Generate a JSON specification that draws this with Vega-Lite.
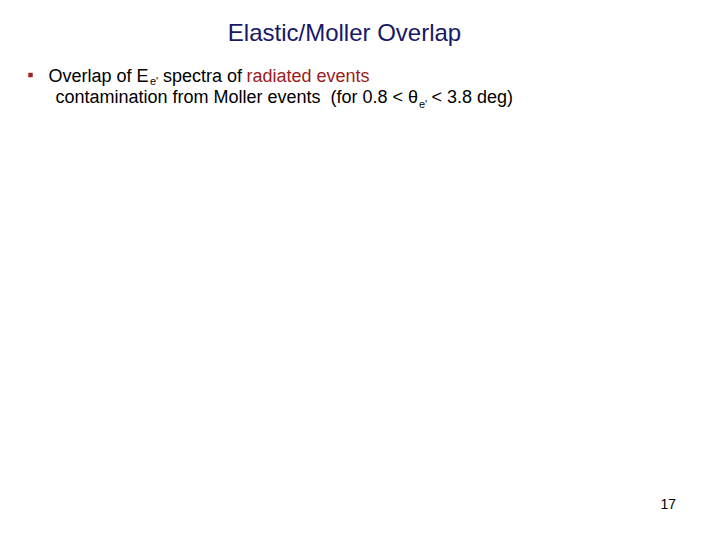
{
  "$schema": "https://vega.github.io/schema/vega-lite/v6.json",
  "width": 720,
  "height": 540,
  "autosize": {"type": "fit", "contains": "padding"},
  "padding": 0,
  "background": "white",
  "config": {"view": {"stroke": null}},
  "data": {
    "values": [
      {"role": "title", "x": 344.5, "y": 41, "text": "Elastic/Moller Overlap"},
      {"role": "bullet", "x": 30.5, "y": 75, "text": ""},
      {"role": "body", "x": 48.5, "y": 81.5, "text": "Overlap of E"},
      {"role": "sub", "x": 150, "y": 84.5, "text": "e'"},
      {"role": "body", "x": 163, "y": 81.5, "text": "spectra of"},
      {"role": "red", "x": 246.5, "y": 81.5, "text": "radiated events"},
      {"role": "body", "x": 55.5, "y": 103, "text": "contamination from Moller events"},
      {"role": "body", "x": 330.5, "y": 103, "text": "(for 0.8 < θ"},
      {"role": "sub", "x": 419, "y": 107.5, "text": "e'"},
      {"role": "body", "x": 431.5, "y": 103, "text": "< 3.8 deg)"},
      {"role": "page", "x": 676, "y": 509, "text": "17"}
    ]
  },
  "encoding": {
    "x": {"field": "x", "type": "quantitative", "scale": {"domain": [0, 720], "nice": false, "zero": false}, "axis": null},
    "y": {"field": "y", "type": "quantitative", "scale": {"domain": [0, 540], "nice": false, "zero": false, "reverse": true}, "axis": null},
    "text": {"field": "text", "type": "nominal"}
  },
  "layer": [
    {
      "transform": [{"filter": "datum.role === 'title'"}],
      "mark": {"type": "text", "font": "Liberation Sans", "fontSize": 24, "align": "center", "baseline": "alphabetic", "color": "#18186a"}
    },
    {
      "transform": [{"filter": "datum.role === 'bullet'"}],
      "mark": {"type": "square", "size": 20, "filled": true, "color": "#a52222", "opacity": 1}
    },
    {
      "transform": [{"filter": "datum.role === 'body'"}],
      "mark": {"type": "text", "font": "Liberation Sans", "fontSize": 18, "align": "left", "baseline": "alphabetic", "color": "#000000"}
    },
    {
      "transform": [{"filter": "datum.role === 'sub'"}],
      "mark": {"type": "text", "font": "Liberation Sans", "fontSize": 11, "align": "left", "baseline": "alphabetic", "color": "#000000"}
    },
    {
      "transform": [{"filter": "datum.role === 'red'"}],
      "mark": {"type": "text", "font": "Liberation Sans", "fontSize": 18, "align": "left", "baseline": "alphabetic", "color": "#9c1c1c"}
    },
    {
      "transform": [{"filter": "datum.role === 'page'"}],
      "mark": {"type": "text", "font": "Liberation Sans", "fontSize": 14, "align": "right", "baseline": "alphabetic", "color": "#000000"}
    }
  ]
}
